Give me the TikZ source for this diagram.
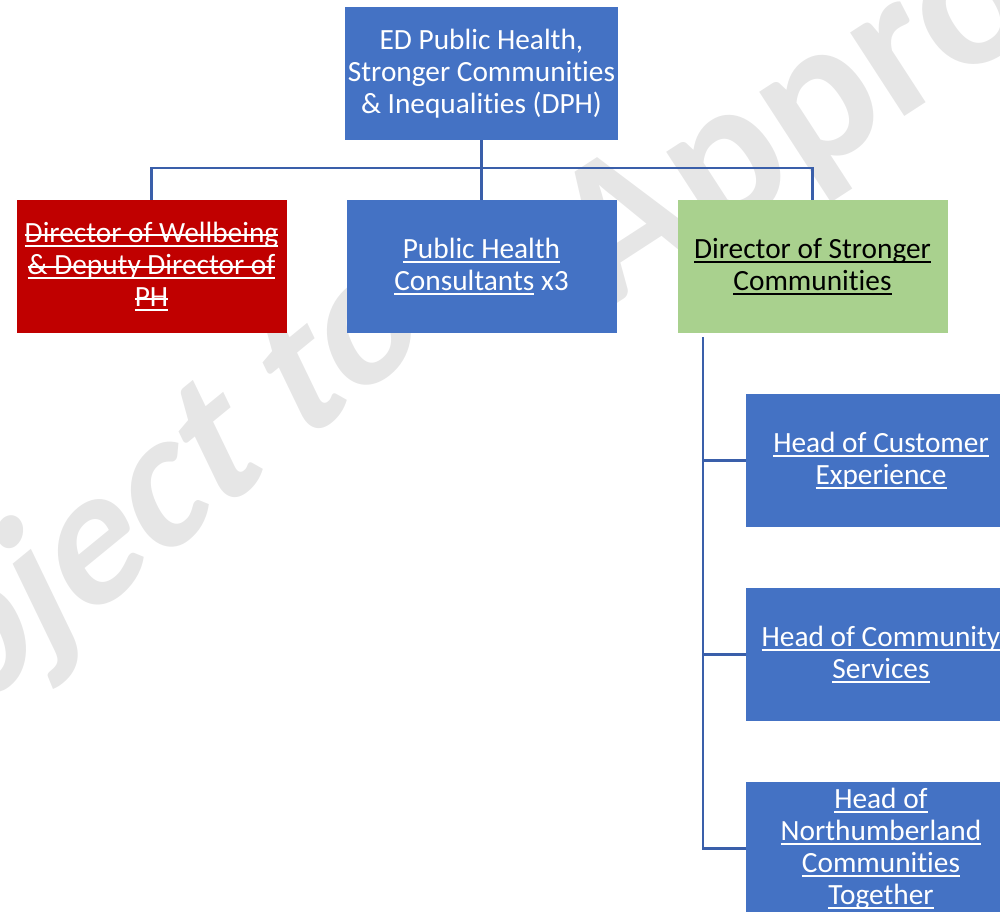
\documentclass[tikz,border=0pt]{standalone}
\usepackage{fontspec}
\setmainfont{Carlito}[Ligatures=NoCommon]
\usetikzlibrary{calc}
\definecolor{boxblue}{RGB}{68,114,196}
\definecolor{boxred}{RGB}{192,0,0}
\definecolor{boxgreen}{RGB}{169,209,142}
\definecolor{linkblue}{RGB}{58,95,170}
\definecolor{wmgray}{RGB}{230,230,230}
\newsavebox\ulbox
\newcommand\undl[1]{\sbox\ulbox{#1}\rlap{\rule[-3.4pt]{\wd\ulbox}{1.4pt}}\usebox\ulbox}
\newcommand\undlst[1]{\sbox\ulbox{#1}\rlap{\rule[-3.4pt]{\wd\ulbox}{1.4pt}}\rlap{\rule[4.6pt]{\wd\ulbox}{1.4pt}}\usebox\ulbox}
\tikzset{
  orgbox/.style={rectangle, minimum width=202.5pt, minimum height=99.75pt,
    inner sep=2pt, align=center, font=\fontsize{22}{24}\selectfont},
  bluebox/.style={orgbox, fill=boxblue, text=white},
  redbox/.style={orgbox, fill=boxred, text=white},
  greenbox/.style={orgbox, fill=boxgreen, text=black},
  link/.style={draw=linkblue, line width=1.8pt},
  wmark/.style={text=wmgray, inner sep=0pt, anchor=base west}
}
\begin{document}
\begin{tikzpicture}[x=0.75pt, y=-0.75pt]
\useasboundingbox (0,0) rectangle (1000,912);
\clip (0,0) rectangle (1000,912);
% watermark
\node[wmark, rotate=39.3, xslant=0.24, font=\fontsize{142.5}{142.5}\selectfont\bfseries] (wm1) at (-183.5,843.6) {Subject to};
\node[wmark, rotate=33, font=\fontsize{154}{154}\selectfont\bfseries] (wm2) at (606,310.7) {Approval};
% boxes
\node[bluebox] (top) at (481.5,73.5) {ED Public Health,\\Stronger Communities\\\& Inequalities (DPH)};
\node[redbox] (red) at (151.5,266.5) {\undlst{Director of Wellbeing}\\\undlst{\& Deputy Director of}\\\undlst{PH}};
\node[bluebox] (ph) at (481.5,266.5) {\undl{Public Health}\\\undl{Consultants} x3};
\node[greenbox] (green) at (812.5,266.5) {\undl{Director of Stronger}\\\undl{Communities}};
\node[bluebox] (h1) at (881,460.5) {\undl{Head of Customer}\\\undl{Experience}};
\node[bluebox] (h2) at (881,654.5) {\undl{Head of Community}\\\undl{Services}};
\node[bluebox] (h3) at (881,848.5) {\undl{Head of}\\\undl{Northumberland}\\\undl{Communities}\\\undl{Together}};
% connectors
\coordinate (bus) at (481.5,168);
\draw[link] (top.south) -- (ph.north);
\draw[link] (bus) -| (red.north);
\draw[link] (bus) -| (green.north);
\coordinate (trunk) at ($(green.south west)+(26,4)$);
\draw[link] (trunk) |- (h3.west);
\draw[link] (trunk |- h1.west) -- (h1.west);
\draw[link] (trunk |- h2.west) -- (h2.west);
\end{tikzpicture}
\end{document}
